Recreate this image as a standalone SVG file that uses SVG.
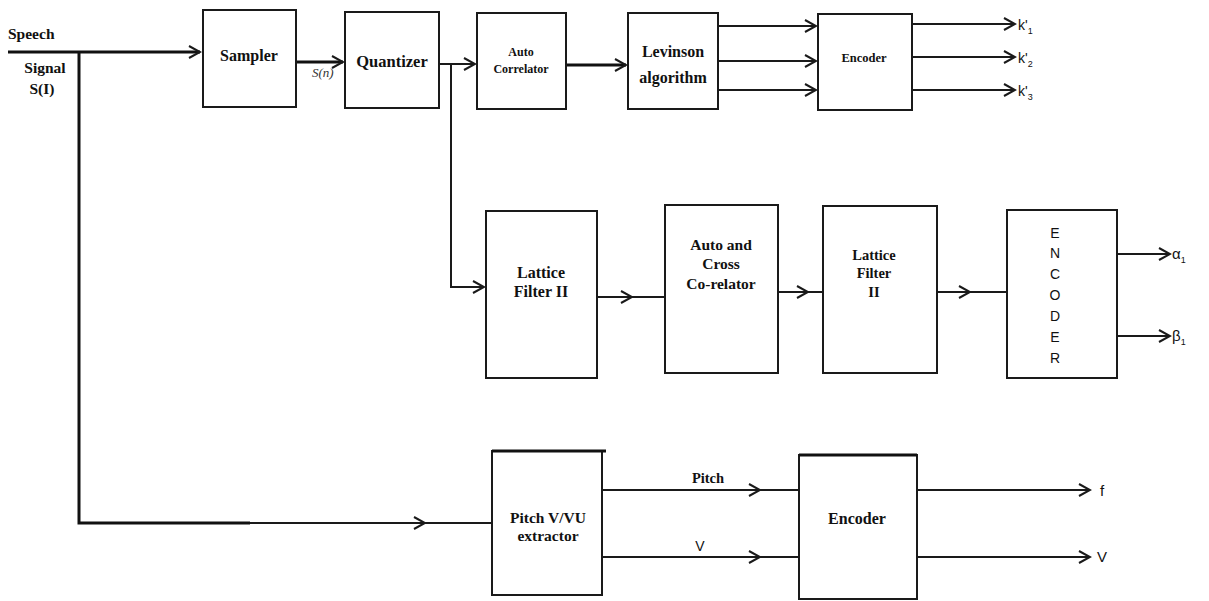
<svg xmlns="http://www.w3.org/2000/svg" width="1209" height="601" viewBox="0 0 1209 601">
<style>
.box{fill:#fff;stroke:#1a1a1a;stroke-width:2}
.lbl{font-weight:bold;fill:#111;text-anchor:middle}
.sans{fill:#111}
.ln{fill:none;stroke:#1a1a1a;stroke-width:2}
.thick{fill:none;stroke:#111;stroke-width:3}
</style>
<defs>
<marker id="ah" markerUnits="userSpaceOnUse" markerWidth="14" markerHeight="14" refX="12" refY="7" orient="auto">
<path d="M1,1 L12,7 L1,13" fill="none" stroke="#1a1a1a" stroke-width="2"/>
</marker>
</defs>
<rect width="1209" height="601" fill="#fff"/>
<g id="connectors">
<path class="thick" d="M8,52 H200" marker-end="url(#ah)"/>
<path class="thick" d="M79,52 V523 H250"/>
<path class="ln" d="M250,523 H425" marker-end="url(#ah)"/>
<path class="ln" d="M425,523 H492"/>
<path class="thick" d="M296,62 H343" marker-end="url(#ah)"/>
<path class="ln" d="M439,64 H475" marker-end="url(#ah)"/>
<path class="ln" d="M451,64 V287 H484" marker-end="url(#ah)"/>
<path class="thick" d="M566,65 H626" marker-end="url(#ah)"/>
<path class="ln" d="M718,26 H816" marker-end="url(#ah)"/>
<path class="ln" d="M718,61 H816" marker-end="url(#ah)"/>
<path class="ln" d="M718,90 H816" marker-end="url(#ah)"/>
<path class="ln" d="M912,24 H1015" marker-end="url(#ah)"/>
<path class="ln" d="M912,57 H1015" marker-end="url(#ah)"/>
<path class="ln" d="M912,90 H1015" marker-end="url(#ah)"/>
<path class="ln" d="M597,297 H632" marker-end="url(#ah)"/>
<path class="ln" d="M632,297 H665"/>
<path class="ln" d="M778,292 H808" marker-end="url(#ah)"/>
<path class="ln" d="M808,292 H823"/>
<path class="ln" d="M937,292 H970" marker-end="url(#ah)"/>
<path class="ln" d="M970,292 H1007"/>
<path class="ln" d="M1117,254 H1170" marker-end="url(#ah)"/>
<path class="ln" d="M1117,336 H1170" marker-end="url(#ah)"/>
<path class="ln" d="M602,490 H760" marker-end="url(#ah)"/>
<path class="ln" d="M760,490 H799"/>
<path class="ln" d="M602,557 H760" marker-end="url(#ah)"/>
<path class="ln" d="M760,557 H799"/>
<path class="ln" d="M917,490 H1090" marker-end="url(#ah)"/>
<path class="ln" d="M917,557 H1090" marker-end="url(#ah)"/>
</g>
<g font-family="'Liberation Serif', 'Times New Roman', serif">
<g id="input-label">
<text class="lbl" x="8" y="39" font-size="15.5" style="text-anchor:start">Speech</text>
<text class="lbl" x="45" y="73" font-size="15.5">Signal</text>
<text class="lbl" x="42" y="94" font-size="15.5">S(I)</text>
</g>
<g id="sampler">
<rect class="box" x="203" y="10" width="93" height="97"/>
<text class="lbl" x="249" y="61" font-size="16">Sampler</text>
</g>
<text id="sn-label" x="312" y="77" font-size="13" fill="#333" font-style="italic">S(n)</text>
<g id="quantizer">
<rect class="box" x="345" y="12" width="94" height="96"/>
<text class="lbl" x="392" y="67" font-size="16.5">Quantizer</text>
</g>
<g id="autocorrelator">
<rect class="box" x="477" y="13" width="89" height="96"/>
<text class="lbl" x="521" y="56" font-size="12">Auto</text>
<text class="lbl" x="521" y="73" font-size="12">Correlator</text>
</g>
<g id="levinson">
<rect class="box" x="628" y="13" width="90" height="96"/>
<text class="lbl" x="673" y="57" font-size="16">Levinson</text>
<text class="lbl" x="673" y="83" font-size="16">algorithm</text>
</g>
<g id="encoder1">
<rect class="box" x="818" y="14" width="94" height="96"/>
<text class="lbl" x="864" y="62" font-size="12.5">Encoder</text>
</g>
<g id="lattice1">
<rect class="box" x="486" y="211" width="111" height="167"/>
<text class="lbl" x="541" y="278" font-size="16">Lattice</text>
<text class="lbl" x="541" y="297" font-size="16">Filter II</text>
</g>
<g id="autocross">
<rect class="box" x="665" y="205" width="113" height="168"/>
<text class="lbl" x="721" y="250" font-size="15.5">Auto and</text>
<text class="lbl" x="721" y="269" font-size="15.5">Cross</text>
<text class="lbl" x="721" y="289" font-size="15.5">Co-relator</text>
</g>
<g id="lattice2">
<rect class="box" x="823" y="206" width="114" height="167"/>
<text class="lbl" x="874" y="260" font-size="14.5">Lattice</text>
<text class="lbl" x="874" y="278" font-size="14.5">Filter</text>
<text class="lbl" x="874" y="297" font-size="14.5">II</text>
</g>
<g id="pitch-extractor">
<rect class="box" x="492" y="451" width="110" height="144"/>
<line x1="492" y1="451" x2="606" y2="451" stroke="#111" stroke-width="3"/>
<text class="lbl" x="548" y="523" font-size="15.5">Pitch V/VU</text>
<text class="lbl" x="548" y="541" font-size="15.5">extractor</text>
</g>
<text id="pitch-label" class="lbl" x="708" y="483" font-size="14.5">Pitch</text>
<g id="encoder3">
<rect class="box" x="799" y="455" width="118" height="144"/>
<line x1="799" y1="455" x2="917" y2="455" stroke="#111" stroke-width="3"/>
<text class="lbl" x="857" y="524" font-size="16">Encoder</text>
</g>
</g>
<g font-family="'Liberation Sans', Arial, sans-serif">
<g id="k-outputs" class="sans" font-size="14">
<text x="1018" y="30">k'<tspan font-size="9" dy="4">1</tspan></text>
<text x="1018" y="63">k'<tspan font-size="9" dy="4">2</tspan></text>
<text x="1018" y="96">k'<tspan font-size="9" dy="4">3</tspan></text>
</g>
<g id="encoder2-letters" class="sans" font-size="14" text-anchor="middle">
<rect class="box" x="1007" y="210" width="110" height="168"/>
<text x="1055" y="238">E</text>
<text x="1055" y="258">N</text>
<text x="1055" y="279">C</text>
<text x="1055" y="300">O</text>
<text x="1055" y="321">D</text>
<text x="1055" y="342">E</text>
<text x="1055" y="363">R</text>
</g>
<g id="ab-outputs" class="sans" font-size="15">
<text x="1172" y="259">α<tspan font-size="9" dy="4">1</tspan></text>
<text x="1172" y="341">β<tspan font-size="9" dy="4">1</tspan></text>
</g>
<text id="v-label" class="sans" x="700" y="551" font-size="14" text-anchor="middle">V</text>
<g id="fv-outputs" class="sans" font-size="15">
<text x="1100" y="496">f</text>
<text x="1097" y="562">V</text>
</g>
</g>
</svg>
